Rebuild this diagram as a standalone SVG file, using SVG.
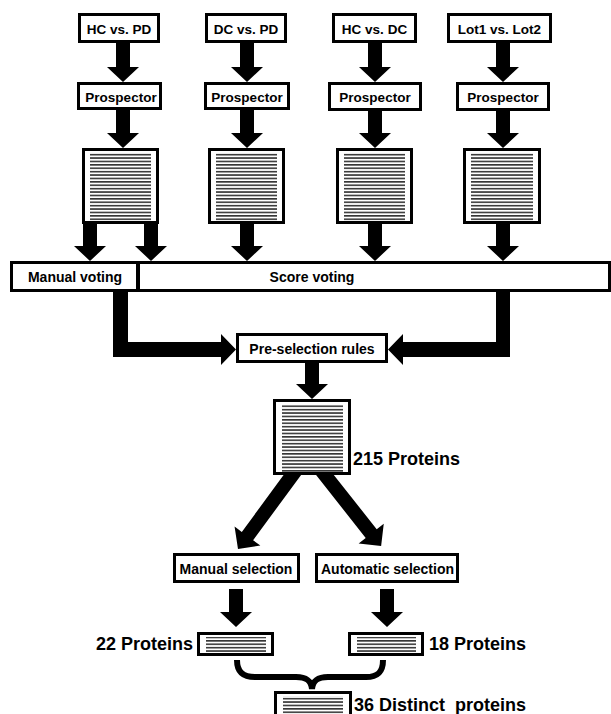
<svg xmlns="http://www.w3.org/2000/svg" width="611" height="714" viewBox="0 0 611 714">
<style>
.box{fill:#fff;stroke:#000;stroke-width:3}
.lst{fill:url(#ln)}
.arr{fill:#000}
.t{font-family:"Liberation Sans",Arial,sans-serif;font-weight:bold;fill:#000}
.s{font-size:13.5px;text-anchor:middle}
.m{font-size:14px;text-anchor:middle}
.b{font-size:18px;white-space:pre}
</style>
<defs>
<pattern id="ln" patternUnits="userSpaceOnUse" width="6" height="3.4">
<rect x="0" y="0.9" width="6" height="1.5" fill="#2a2a2a"/>
</pattern>
</defs>
<rect width="611" height="714" fill="#fff"/>

<g id="connectors">
<polygon class="arr" points="116,43 130,43 130,67 139,67 123,82 107,67 116,67"/>
<polygon class="arr" points="240,43 254,43 254,67 263,67 247,82 231,67 240,67"/>
<polygon class="arr" points="368,43 382,43 382,67 391,67 375,82 359,67 368,67"/>
<polygon class="arr" points="496,43 510,43 510,67 519,67 503,82 487,67 496,67"/>
<polygon class="arr" points="116,110 130,110 130,133 139,133 123,148 107,133 116,133"/>
<polygon class="arr" points="240,110 254,110 254,133 263,133 247,148 231,133 240,133"/>
<polygon class="arr" points="368,110 382,110 382,133 391,133 375,148 359,133 368,133"/>
<polygon class="arr" points="496,110 510,110 510,133 519,133 503,148 487,133 496,133"/>
<polygon class="arr" points="83,223 97,223 97,246 106,246 90,261 74,246 83,246"/>
<polygon class="arr" points="144,223 158,223 158,246 167,246 151,261 135,246 144,246"/>
<polygon class="arr" points="240,223 254,223 254,246 263,246 247,261 231,246 240,246"/>
<polygon class="arr" points="368,223 382,223 382,246 391,246 375,261 359,246 368,246"/>
<polygon class="arr" points="496,223 510,223 510,246 519,246 503,261 487,246 496,246"/>
<polygon class="arr" points="113,291 128,291 128,342 221,342 221,334 236,349.5 221,365 221,357 113,357"/>
<polygon class="arr" points="510,291 496,291 496,342 403,342 403,334 388,349.5 403,365 403,357 510,357"/>
<polygon class="arr" points="305,363 319,363 319,384 328,384 312,399 296,384 305,384"/>
<polygon class="arr" transform="translate(296,470) rotate(126.3)" points="0,-7 82,-7 82,-16 98,0 82,16 82,7 0,7"/>
<polygon class="arr" transform="translate(321,470) rotate(51.7)" points="0,-7 81,-7 81,-16 97,0 81,16 81,7 0,7"/>
<polygon class="arr" points="229,589 243,589 243,612 252,612 236,627 220,612 229,612"/>
<polygon class="arr" points="380,589 394,589 394,612 403,612 387,627 371,612 380,612"/>
<path d="M237,660 C237,672 243,677 255,677 L296,677 C306,677 311,680 312,689 C313,680 318,677 328,677 L366,677 C378,677 383,672 383,660" fill="none" stroke="#000" stroke-width="6"/>
</g>

<g id="hc-pd"><rect class="box" x="79.5" y="14.5" width="79" height="27"/><text class="t s" x="119" y="33.5">HC vs. PD</text></g>
<g id="dc-pd"><rect class="box" x="206.5" y="14.5" width="79" height="27"/><text class="t s" x="246" y="33.5">DC vs. PD</text></g>
<g id="hc-dc"><rect class="box" x="333.5" y="14.5" width="82" height="27"/><text class="t s" x="374.5" y="33.5">HC vs. DC</text></g>
<g id="lot"><rect class="box" x="448.5" y="14.5" width="102" height="27"/><text class="t s" x="499.5" y="33.5">Lot1 vs. Lot2</text></g>

<g id="prosp1"><rect class="box" x="78.5" y="83.5" width="82" height="25"/><text class="t s" x="121" y="101.5">Prospector</text></g>
<g id="prosp2"><rect class="box" x="205.5" y="83.5" width="83" height="25"/><text class="t s" x="247" y="101.5">Prospector</text></g>
<g id="prosp3"><rect class="box" x="329.5" y="83.5" width="91" height="26"/><text class="t s" x="375" y="101.5">Prospector</text></g>
<g id="prosp4"><rect class="box" x="457.5" y="83.5" width="91" height="26"/><text class="t s" x="503" y="101.5">Prospector</text></g>

<g id="list1"><rect class="box" x="83.5" y="149.5" width="74" height="73"/><rect class="lst" x="90" y="153" width="61" height="68"/></g>
<g id="list2"><rect class="box" x="209.5" y="149.5" width="74" height="73"/><rect class="lst" x="216" y="153" width="61" height="68"/></g>
<g id="list3"><rect class="box" x="337.5" y="149.5" width="74" height="73"/><rect class="lst" x="344" y="153" width="61" height="68"/></g>
<g id="list4"><rect class="box" x="464.5" y="149.5" width="75" height="73"/><rect class="lst" x="471" y="153" width="62" height="68"/></g>

<g id="manual-voting"><rect class="box" x="11.5" y="262.5" width="126" height="28"/><text class="t m" x="75" y="282">Manual voting</text></g>
<g id="score-voting"><rect class="box" x="138.5" y="262.5" width="471" height="28"/><text class="t m" x="312" y="282">Score voting</text></g>

<g id="preselection"><rect class="box" x="237.5" y="334.5" width="149" height="27"/><text class="t m" x="312" y="354">Pre-selection rules</text></g>

<g id="list215"><rect class="box" x="274.5" y="400.5" width="75" height="73"/><rect class="lst" x="282" y="404" width="61" height="68"/><text class="t b" x="353" y="465">215 Proteins</text></g>

<g id="manual-selection"><rect class="box" x="174.5" y="554.5" width="124" height="27"/><text class="t m" x="236" y="574">Manual selection</text></g>
<g id="auto-selection"><rect class="box" x="316.5" y="554.5" width="141" height="27"/><text class="t m" x="387.5" y="574">Automatic selection</text></g>

<g id="list22"><rect class="box" x="198.5" y="633.5" width="74" height="21"/><rect class="lst" x="206" y="637" width="60" height="15"/><text class="t b" x="193" y="650" text-anchor="end">22 Proteins</text></g>
<g id="list18"><rect class="box" x="349.5" y="633.5" width="73" height="21"/><rect class="lst" x="357" y="637" width="59" height="15"/><text class="t b" x="429" y="650">18 Proteins</text></g>
<g id="list36"><rect class="box" x="275.5" y="692.5" width="75" height="24"/><rect class="lst" x="283" y="696" width="60" height="18"/><text class="t b" x="354" y="711">36 Distinct  proteins</text></g>
</svg>
